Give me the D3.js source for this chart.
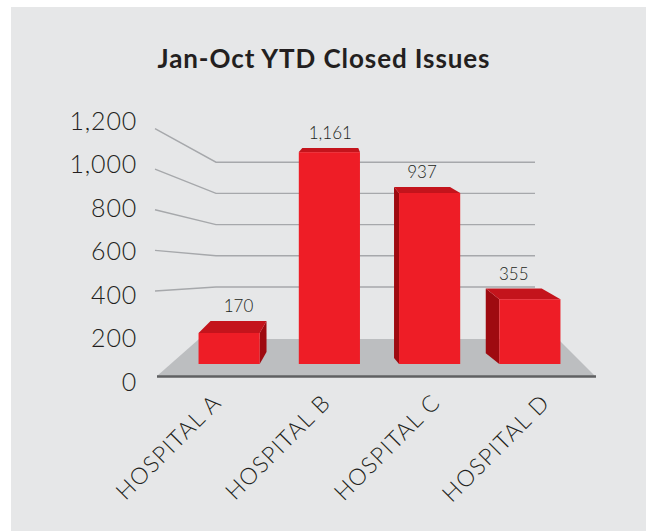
<!DOCTYPE html>
<html lang="en">
  <head>
    <meta charset="utf-8">
    <title>Jan-Oct YTD Closed Issues</title>
    <script src="https://d3js.org/d3.v7.min.js"></script>
    <style>
      body{ margin:0; background:#ffffff; }
      text{ font-family: Lato, "Open Sans", sans-serif; fill:#231f20; }
    </style>
  </head>
  <body>
    <svg id="chart"></svg>
    <script>
      // chart data
      var categories = ["HOSPITAL A", "HOSPITAL B", "HOSPITAL C", "HOSPITAL D"];
      var closedIssues = [170, 1161, 937, 355];
      var yTicks = [0, 200, 400, 600, 800, 1000, 1200];
      var gridTicks = [400, 600, 800, 1000, 1200];
      var title = "Jan-Oct YTD Closed Issues";

      var width = 646, height = 531;
      var svg = d3.select("#chart").attr("width", width).attr("height", height);

      // grey panel
      svg.append("rect")
         .attr("x", 11).attr("y", 7)
         .attr("width", width - 11).attr("height", height - 7)
         .attr("fill", "#e6e7e8");

      svg.append("text")
         .text(title)
         .attr("x", 324).attr("y", 68)
         .attr("text-anchor", "middle")
         .attr("font-size", 26)
         .attr("font-weight", 700)
         .attr("letter-spacing", 0.9);

      // front axis labels
      var yAxis = d3.scaleLinear().domain([0, 1200]).range([381.5, 120.5]);
      // bar fronts
      var yBar = d3.scaleLinear().domain([0, 1200]).range([364, 145]);
      // gridlines: left end on the side wall, then along the back wall
      var ySide = d3.scaleLinear().domain([400, 1200]).range([291, 128.6]);
      var yWall = d3.scaleLinear().domain([400, 1200]).range([287, 162.2]);

      var x = d3.scaleBand().domain(categories).range([179, 580])
                .paddingInner(0.39).paddingOuter(0.195);
      // floor front edge, used for the category labels
      var xFloor = d3.scaleBand().domain(categories).range([157, 595]);

      // fake perspective
      var vx = 340, s = 0.085;
      var depthY = d3.scaleLinear().domain([150, 330]).range([-4, -12]).clamp(true);
      function dxAt(px){ return s * (vx - px); }

      // gridlines
      svg.append("g").selectAll("polyline")
         .data(gridTicks)
         .enter()
         .append("polyline")
         .attr("points", function(d){
           return [[155, ySide(d)], [216, yWall(d)], [535, yWall(d)]].join(" ");
         })
         .attr("fill", "none")
         .attr("stroke", "#a6a8ab")
         .attr("stroke-width", 1.4);

      // floor
      svg.append("polygon")
         .attr("points", [[157, 376], [595, 376], [558, 339], [199, 339]].join(" "))
         .attr("fill", "#bcbec0");
      svg.append("line")
         .attr("x1", 157).attr("x2", 596)
         .attr("y1", 376.5).attr("y2", 376.5)
         .attr("stroke", "#5f6062")
         .attr("stroke-width", 2.5);

      // y labels
      svg.append("g").selectAll("text")
         .data(yTicks)
         .enter()
         .append("text")
         .text(function(d){ return d3.format(",")(d); })
         .attr("x", 137)
         .attr("y", function(d){ return yAxis(d); })
         .attr("dy", "0.36em")
         .attr("text-anchor", "end")
         .attr("font-size", 25)
         .attr("font-weight", 300)
         .attr("letter-spacing", 0.8)
         .attr("fill", "#2b2b2b");

      // bars
      var bars = svg.append("g").selectAll("g")
         .data(closedIssues)
         .enter()
         .append("g");

      bars.each(function(v, i){
        var g = d3.select(this);
        var x0 = x(categories[i]), x1 = x0 + x.bandwidth();
        var top = yBar(v), bot = yBar(0);
        var dy = depthY(top);
        var dl = dxAt(x0), dr = dxAt(x1);

        if(dl < 0){
          g.append("polygon")
           .attr("points", [[x0, top], [x0 + dl, top + dy], [x0 + dl, bot + dy], [x0, bot]].join(" "))
           .attr("fill", "#9e0a10");
        }
        if(dr > 0){
          g.append("polygon")
           .attr("points", [[x1, top], [x1 + dr, top + dy], [x1 + dr, bot + dy], [x1, bot]].join(" "))
           .attr("fill", "#9e0a10");
        }
        g.append("polygon")
         .attr("points", [[x0, top], [x1, top], [x1 + dr, top + dy], [x0 + dl, top + dy]].join(" "))
         .attr("fill", "#c4141c");
        g.append("rect")
         .attr("x", x0).attr("y", top)
         .attr("width", x1 - x0).attr("height", bot - top)
         .attr("fill", "#ee1d26");

        g.append("text")
         .text(d3.format(",")(v))
         .attr("x", (x0 + dl + x1 + dr) / 2)
         .attr("y", top + dy - 9)
         .attr("text-anchor", "middle")
         .attr("font-size", 17)
         .attr("font-weight", 300)
         .attr("fill", "#333333");
      });

      // category labels
      svg.append("g").selectAll("text")
         .data(categories)
         .enter()
         .append("text")
         .text(function(d){ return d; })
         .attr("transform", function(d){
           return "translate(" + (xFloor(d) + xFloor.bandwidth() / 2 + 11) + ",404) rotate(-45)";
         })
         .attr("text-anchor", "end")
         .attr("font-size", 23)
         .attr("font-weight", 300)
         .attr("letter-spacing", 1.2);
    </script>
  </body>
</html>
